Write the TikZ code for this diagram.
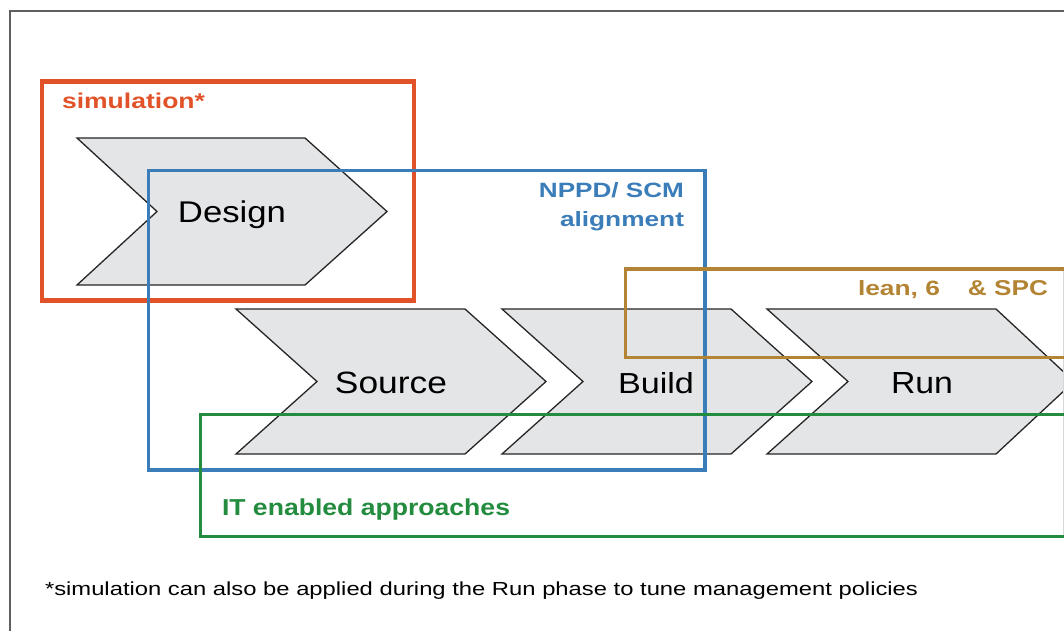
\documentclass[tikz,border=0pt]{standalone}
\usepackage{fontspec}
\setmainfont{Liberation Sans}
\usepackage{graphicx}
\definecolor{simred}{RGB}{226,82,41}
\definecolor{nppdblue}{RGB}{59,125,185}
\definecolor{itgreen}{RGB}{35,140,62}
\definecolor{leanbrown}{RGB}{178,132,52}
\definecolor{chevfill}{RGB}{228,229,231}
\definecolor{framecol}{RGB}{95,95,95}
\definecolor{faintgray}{RGB}{215,215,215}
\newcommand\fitw[3]{\resizebox{#1pt}{#2pt}{#3}}
\tikzset{
  chevron/.style={fill=chevfill, draw=black!85, line width=1.3pt, line join=miter},
  areabox/.style={line width=3.6pt},
  lbl/.style={inner sep=0pt, outer sep=0pt},
}
\begin{document}
\begin{tikzpicture}[x=1pt,y=-1pt]
\useasboundingbox (0,0) rectangle (1064,630);
\clip (0,0) rectangle (1064,630);
\fill[white] (0,0) rectangle (1064,630);
\draw[framecol, line width=1.3pt] (10,700) -- (10,11) -- (1070,11);

% chevrons
\draw[chevron] (77,138) -- (305,138) -- (387,211.5) -- (305,285) -- (77,285) -- (157,211.5) -- cycle;
\draw[chevron] (236,309) -- (465,309) -- (546,381.5) -- (465,454) -- (236,454) -- (317,381.5) -- cycle;
\draw[chevron] (502,309) -- (731,309) -- (812,381.5) -- (731,454) -- (502,454) -- (583,381.5) -- cycle;
\draw[chevron] (767,309) -- (996,309) -- (1074,381.5) -- (996,454) -- (767,454) -- (848,381.5) -- cycle;

% chevron labels
\node[lbl, anchor=base] (design) at (232,222.5) {\fitw{108}{21.7}{Design}};
\node[lbl, anchor=base] (source) at (391,393) {\fitw{112}{21.5}{Source}};
\node[lbl, anchor=base] (build) at (656,393) {\fitw{76}{21}{Build}};
\node[lbl, anchor=base] (run) at (922,393) {\fitw{62}{21}{Run}};

% area boxes
\draw[faintgray, line width=1pt] (1063,268.7) -- (1063,536.5);
\draw[areabox, simred, line width=4.2pt] (41.7,81.5) rectangle (414.3,300.5);
\draw[areabox, nppdblue] (148.5,170.5) rectangle (705,470);
\draw[areabox, leanbrown] (625.3,268.7) rectangle (1085,357.3);
\draw[areabox, itgreen] (200.5,414.5) rectangle (1085,536.5);

% area labels
\node[lbl, anchor=base west, text=simred] (sim) at (62,108.3) {\fitw{143}{15.5}{\bfseries simulation*}};
\node[lbl, anchor=base east, text=nppdblue] (nppd) at (684,197) {\fitw{145}{15}{\bfseries NPPD/ SCM}};
\node[lbl, anchor=base east, text=nppdblue] (align) at (684,226.5) {\fitw{124}{15}{\bfseries alignment}};
\node[lbl, anchor=base west, text=leanbrown] (lean) at (858,295) {\fitw{82}{15}{\bfseries lean, 6}};
\node[lbl, anchor=base east, text=leanbrown] (spc) at (1048,295) {\fitw{80}{15}{\bfseries \& SPC}};
\node[lbl, anchor=base west, text=itgreen] (it) at (222,515) {\fitw{288}{16.7}{\bfseries IT enabled approaches}};

% footnote
\node[lbl, anchor=base west] (note) at (45,595.7) {\fitw{873}{13.7}{*simulation can also be applied during the Run phase to tune management policies}};
\end{tikzpicture}
\end{document}
